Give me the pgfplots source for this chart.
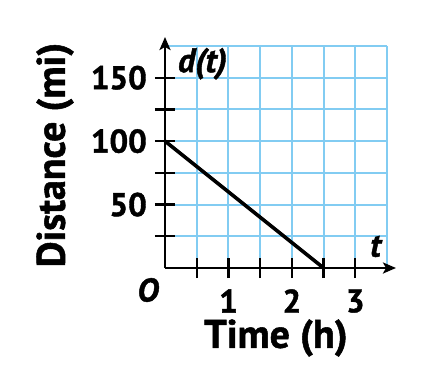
\documentclass[border=0pt]{standalone}
\usepackage{fontspec}
\setmainfont{PT Sans}[BoldFeatures={FakeBold=1.3},BoldItalicFeatures={FakeBold=1.3}]
\usepackage{pgfplots}
\pgfplotsset{compat=1.18}
\usetikzlibrary{arrows.meta}
\definecolor{gridc}{RGB}{130,204,242}
\begin{document}
\begin{tikzpicture}
\useasboundingbox (-165bp,-112bp) rectangle (273bp,268bp);
\begin{axis}[
  at={(0,0)}, anchor=south west,
  scale only axis, width=222bp, height=222bp,
  xmin=0, xmax=3.5, ymin=0, ymax=175,
  axis lines=none,
  clip=false,
  /pgf/number format/assume math mode=true,
]
% grid
\foreach \gx in {0.5,1,...,3.5} {
  \edef\tmp{\noexpand\draw[gridc, line width=2bp] (axis cs:\gx,0) -- (axis cs:\gx,175);}\tmp
}
\foreach \gy in {25,50,...,175} {
  \edef\tmp{\noexpand\draw[gridc, line width=2bp] (axis cs:0,\gy) -- (axis cs:3.5,\gy);}\tmp
}
% axes
\draw[line width=2.6bp, -{Stealth[length=13bp,width=11bp,inset=3bp]}] (axis cs:0,0) -- ([xshift=9bp]axis cs:3.5,0);
\draw[line width=2.6bp, -{Stealth[length=13bp,width=11bp,inset=3bp]}] (axis cs:0,0) -- ([yshift=9bp]axis cs:0,175);
% ticks
\foreach \tx in {0.5,1,...,3} {
  \edef\tmp{\noexpand\draw[line width=2.4bp] ([yshift=-10bp]axis cs:\tx,0) -- ([yshift=10bp]axis cs:\tx,0);}\tmp
}
\foreach \ty in {25,50,...,150} {
  \edef\tmp{\noexpand\draw[line width=2.4bp] ([xshift=-10bp]axis cs:0,\ty) -- ([xshift=10bp]axis cs:0,\ty);}\tmp
}
% data
\addplot[black, line width=3.6bp, no markers] coordinates {(0,100) (2.5,0)};
% tick labels
\foreach \ty in {50,100,150} {
  \edef\tmp{\noexpand\node[anchor=east, inner sep=0pt, font=\noexpand\fontsize{33}{33}\noexpand\selectfont\noexpand\bfseries] at ([xshift=-18bp]axis cs:0,\ty) {\ty};}\tmp
}
\foreach \tx in {1,2,3} {
  \edef\tmp{\noexpand\node[anchor=center, inner sep=0pt, font=\noexpand\fontsize{33}{33}\noexpand\selectfont\noexpand\bfseries] at ([yshift=-33bp]axis cs:\tx,0) {\tx};}\tmp
}
\node[font=\fontsize{33}{33}\selectfont\bfseries\itshape] at ([xshift=-17bp,yshift=-22bp]axis cs:0,0) {O};
\node[font=\fontsize{34}{34}\selectfont\bfseries\itshape, inner sep=0pt] at (axis cs:0.59,161) {d(t)};
\node[font=\fontsize{33}{33}\selectfont\bfseries\itshape, inner sep=0pt] at (axis cs:3.32,17) {t};
\end{axis}
\node[font=\fontsize{40}{40}\selectfont\bfseries, rotate=90] at (-110bp,113bp) {Distance (mi)};
\node[font=\fontsize{40}{40}\selectfont\bfseries] at (111bp,-70bp) {Time (h)};
\end{tikzpicture}
\end{document}
